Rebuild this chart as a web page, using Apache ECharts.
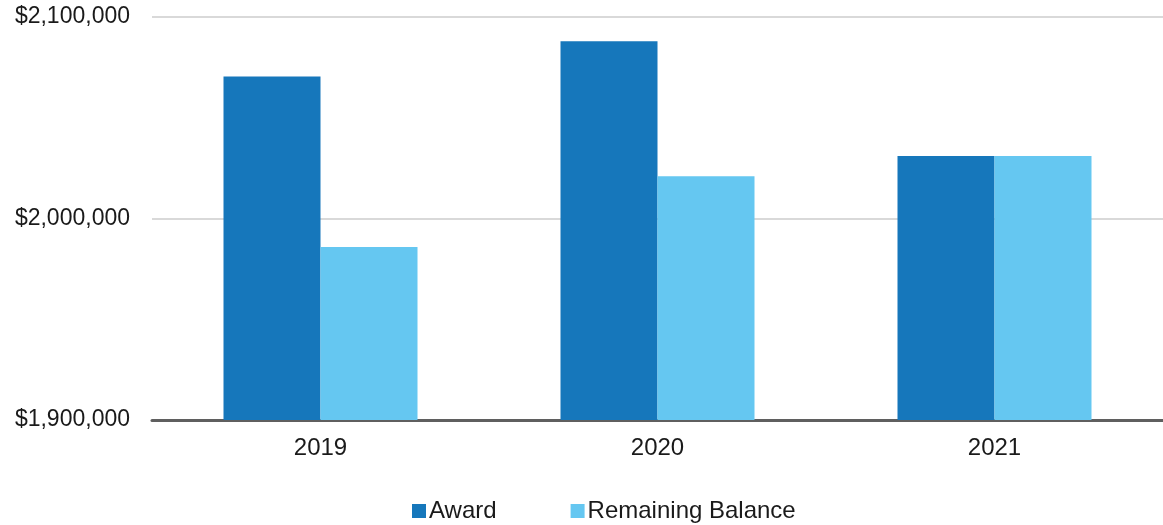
<!DOCTYPE html>
<html>
<head>
<meta charset="utf-8">
<style>
  html, body { margin: 0; padding: 0; background: #ffffff; }
  #chart { width: 1163px; height: 525px; }
</style>
<script src="https://cdn.jsdelivr.net/npm/echarts@6/dist/echarts.min.js"></script>
</head>
<body>
<div id="chart"></div>
<script>
// Award vs. remaining balance by year
const years = ['2019', '2020', '2021'];
const award = [2070500, 2088000, 2031000];
const remainingBalance = [1985800, 2021000, 2031000];
const yTicks = [1900000, 2000000, 2100000];

const FONT = '"Liberation Sans", Arial, sans-serif';
const fmtDollar = v => '$' + v.toLocaleString('en-US');

const chart = echarts.init(document.getElementById('chart'));
chart.setOption({
  backgroundColor: '#ffffff',
  animation: false,
  textStyle: { fontFamily: FONT },
  grid: { left: 152, right: 0, top: 17, bottom: 105, containLabel: false },
  legend: {
    top: 494,
    left: 407,
    itemWidth: 14,
    itemHeight: 14,
    itemGap: 74,
    icon: 'rect',
    textStyle: { fontFamily: FONT, fontSize: 24, color: '#1a1a1a', padding: [0, 0, 0, -2] },
    data: ['Award', 'Remaining Balance']
  },
  xAxis: {
    type: 'category',
    data: years,
    axisTick: { show: false },
    axisLine: { show: true, lineStyle: { color: '#5f5f5f', width: 3 } },
    axisLabel: { fontFamily: FONT, fontSize: 24, color: '#1a1a1a', margin: 16 }
  },
  yAxis: {
    type: 'value',
    min: yTicks[0],
    max: yTicks[yTicks.length - 1],
    interval: yTicks[1] - yTicks[0],
    axisLine: { show: false },
    axisTick: { show: false },
    splitLine: { lineStyle: { color: '#d9d9d9', width: 2 } },
    axisLabel: { fontFamily: FONT, fontSize: 23, color: '#1a1a1a', margin: 22, formatter: fmtDollar }
  },
  series: [
    {
      name: 'Award',
      type: 'bar',
      data: award,
      barWidth: 97,
      barGap: '0%',
      itemStyle: { color: '#1677BB' }
    },
    {
      name: 'Remaining Balance',
      type: 'bar',
      data: remainingBalance,
      barWidth: 97,
      barGap: '0%',
      itemStyle: { color: '#65C7F1' }
    }
  ]
});
</script>
</body>
</html>
